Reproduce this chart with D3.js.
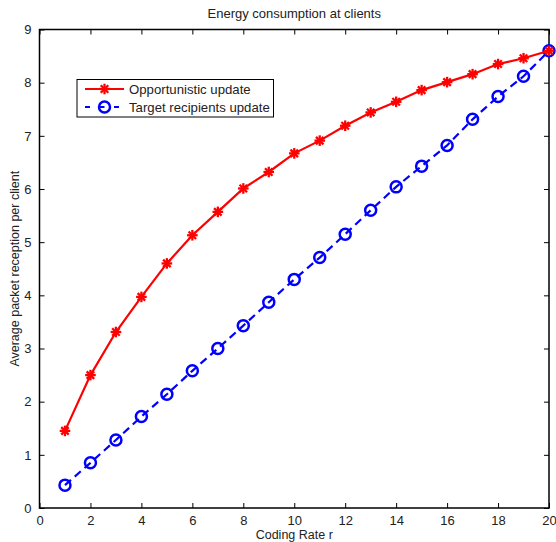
<!DOCTYPE html>
<html lang="en">
    <head>
        <meta charset="utf-8">
        <title>Energy consumption at clients</title>
        <script type="text/javascript" src="https://cdn.jsdelivr.net/npm/d3@7"></script>
        <style>
            body { margin: 0; background: white; }
            text { font-family: "Liberation Sans", Arial, sans-serif; fill: #222; }
        </style>
    </head>
    <body>
        <script type="text/javascript">
            const w = 556
            const h = 542

            const rates = [1,2,3,4,5,6,7,8,9,10,11,12,13,14,15,16,17,18,19,20]
            const opportunistic = [1.45,2.5,3.31,3.97,4.6,5.13,5.57,6.01,6.32,6.67,6.91,7.19,7.44,7.64,7.86,8.01,8.16,8.35,8.46,8.6]
            const targeted = [0.43,0.85,1.28,1.72,2.14,2.58,3.0,3.43,3.87,4.3,4.71,5.15,5.6,6.04,6.43,6.82,7.31,7.74,8.12,8.6]
            const xTicks = [0,2,4,6,8,10,12,14,16,18,20]
            const yTicks = [0,1,2,3,4,5,6,7,8,9]

            const pLeft = 39.5, pRight = 549, pTop = 29.5, pBottom = 508

            let svg = d3.select("body")
                        .append("svg")
                            .attr("width",w)
                            .attr("height",h)

            let x = d3.scaleLinear().domain([0,20]).range([pLeft,pRight])
            let y = d3.scaleLinear().domain([0,9]).range([pBottom,pTop])

            // axes box with inward ticks on all four sides
            function styleAxis(g){
                g.select(".domain").remove()
                g.selectAll(".tick line").attr("stroke","#000").attr("stroke-width",1)
                g.selectAll(".tick text").attr("font-size","13px").attr("fill","#222")
                    .attr("font-family","Liberation Sans, Arial, sans-serif")
            }
            svg.append("g").attr("transform",`translate(0,${pBottom})`)
                .call(d3.axisBottom(x).tickValues(xTicks).tickSizeInner(-5).tickPadding(8))
                .call(styleAxis)
            svg.append("g").attr("transform",`translate(0,${pTop})`)
                .call(d3.axisTop(x).tickValues(xTicks).tickSizeInner(-5).tickFormat(""))
                .call(styleAxis)
            svg.append("g").attr("transform",`translate(${pLeft},0)`)
                .call(d3.axisLeft(y).tickValues(yTicks).tickSizeInner(-5).tickPadding(8))
                .call(styleAxis)
            svg.append("g").attr("transform",`translate(${pRight},0)`)
                .call(d3.axisRight(y).tickValues(yTicks).tickSizeInner(-5).tickFormat(""))
                .call(styleAxis)
            svg.append("rect")
                .attr("x",pLeft).attr("y",pTop)
                .attr("width",pRight-pLeft).attr("height",pBottom-pTop)
                .attr("fill","none").attr("stroke","#000").attr("stroke-width",1.5)

            let line = d3.line().x(d=>x(d[0])).y(d=>y(d[1]))
            let blueData = rates.map((r,i)=>[r,targeted[i]])
            let redData = rates.map((r,i)=>[r,opportunistic[i]])

            function star(g,cx,cy){
                let s = 5.3
                let p = g.append("g").attr("transform",`translate(${cx},${cy})`)
                for (let a = 0; a<180; a+=45){
                    let rad = a*Math.PI/180
                    p.append("line")
                        .attr("x1",-s*Math.cos(rad)).attr("y1",-s*Math.sin(rad))
                        .attr("x2",s*Math.cos(rad)).attr("y2",s*Math.sin(rad))
                        .attr("stroke","#ff0000").attr("stroke-width",2.3)
                }
            }
            function ring(g,cx,cy){
                g.append("circle").attr("cx",cx).attr("cy",cy).attr("r",5.5)
                    .attr("fill","none").attr("stroke","#0000ff").attr("stroke-width",2.5)
            }

            svg.append("path").datum(blueData)
                .attr("d",line).attr("fill","none")
                .attr("stroke","#0000ff").attr("stroke-width",2.2)
                .attr("stroke-dasharray","8,5")
            let blueMarks = svg.append("g")
            blueData.forEach(d=>ring(blueMarks,x(d[0]),y(d[1])))

            svg.append("path").datum(redData)
                .attr("d",line).attr("fill","none")
                .attr("stroke","#ff0000").attr("stroke-width",2.2)
            let redMarks = svg.append("g")
            redData.forEach(d=>star(redMarks,x(d[0]),y(d[1])))

            // legend
            let lg = svg.append("g")
            lg.append("rect").attr("x",77).attr("y",79.5).attr("width",196.5).attr("height",37.5)
                .attr("fill","white").attr("stroke","#000").attr("stroke-width",1)
            lg.append("line").attr("x1",85).attr("x2",124).attr("y1",89).attr("y2",89)
                .attr("stroke","#ff0000").attr("stroke-width",2.2)
            star(lg,104.5,89)
            lg.append("line").attr("x1",85).attr("x2",124).attr("y1",107).attr("y2",107)
                .attr("stroke","#0000ff").attr("stroke-width",2.2).attr("stroke-dasharray","5,9.5")
            ring(lg,104.5,107)
            lg.append("text").attr("x",129).attr("y",93.5).attr("font-size","13.2px").text("Opportunistic update")
            lg.append("text").attr("x",129).attr("y",111.5).attr("font-size","13.2px").text("Target recipients update")

            svg.append("text")
                .attr("x",(pLeft+pRight)/2).attr("y",18)
                .attr("text-anchor","middle").attr("font-size","13px")
                .text("Energy consumption at clients")
            svg.append("text")
                .attr("x",(pLeft+pRight)/2).attr("y",539)
                .attr("text-anchor","middle").attr("font-size","12.5px")
                .text("Coding Rate r")
            svg.append("text")
                .attr("transform",`translate(19,${(pTop+pBottom)/2}) rotate(-90)`)
                .attr("text-anchor","middle").attr("font-size","12.5px")
                .text("Average packet reception per client")
        </script>
    </body>
</html>
